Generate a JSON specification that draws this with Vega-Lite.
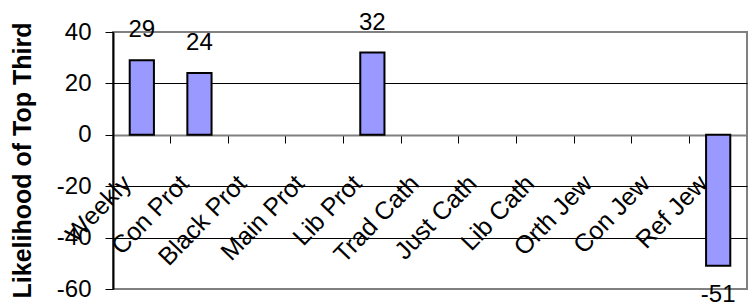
{
  "$schema": "https://vega.github.io/schema/vega-lite/v6.json",
  "width": 634,
  "height": 257,
  "autosize": "none",
  "padding": {"left": 113, "top": 32, "right": 1, "bottom": 18},
  "background": "white",
  "config": {
    "view": {"stroke": "#808080", "strokeWidth": 2},
    "font": "Liberation Sans"
  },
  "data": {
    "values": [
      {"group": "Weekly", "value": 29},
      {"group": "Con Prot", "value": 24},
      {"group": "Black Prot", "value": null},
      {"group": "Main Prot", "value": null},
      {"group": "Lib Prot", "value": 32},
      {"group": "Trad Cath", "value": null},
      {"group": "Just Cath", "value": null},
      {"group": "Lib Cath", "value": null},
      {"group": "Orth Jew", "value": null},
      {"group": "Con Jew", "value": null},
      {"group": "Ref Jew", "value": -51}
    ]
  },
  "encoding": {
    "x": {
      "field": "group",
      "type": "nominal",
      "sort": null,
      "scale": {
        "domain": ["Weekly", "Con Prot", "Black Prot", "Main Prot", "Lib Prot", "Trad Cath", "Just Cath", "Lib Cath", "Orth Jew", "Con Jew", "Ref Jew"],
        "paddingInner": 0,
        "paddingOuter": 0
      },
      "axis": {
        "title": null,
        "offset": -154,
        "bandPosition": 0,
        "labelAngle": -46,
        "labelAlign": "right",
        "labelBaseline": "middle",
        "labelOffset": -15,
        "labelPadding": 36,
        "labelFontSize": 25,
        "labelColor": "black",
        "labelFont": "Liberation Sans",
        "domainColor": "#808080",
        "domainWidth": 2,
        "tickColor": "black",
        "tickSize": 8,
        "tickWidth": 1,
        "grid": false
      }
    },
    "y": {
      "field": "value",
      "type": "quantitative",
      "scale": {"domain": [-60, 40], "nice": false},
      "axis": {
        "title": "Likelihood of Top Third",
        "titleFontSize": 25,
        "titleFontWeight": "bold",
        "titleFont": "Liberation Sans",
        "titleColor": "black",
        "titleX": -91,
        "titleY": 128,
        "titleAnchor": "middle",
        "titleBaseline": "middle",
        "values": [-60, -40, -20, 0, 20, 40],
        "labelExpr": "toString(datum.value)",
        "labelFontSize": 24,
        "labelColor": "black",
        "labelPadding": 14,
        "labelFont": "Liberation Sans",
        "domainColor": "black",
        "domainWidth": 2,
        "tickColor": "black",
        "tickSize": 8,
        "grid": true,
        "gridColor": {"condition": {"test": "datum.value === 40 || datum.value === -60 || datum.value === 0", "value": "#808080"}, "value": "black"},
        "gridWidth": 1,
        "gridOpacity": 1
      }
    }
  },
  "layer": [
    {
      "mark": {"type": "bar", "width": {"band": 0.42}, "color": "#9999FF", "stroke": "black", "strokeWidth": 2}
    },
    {
      "transform": [{"filter": "datum.value > 0"}],
      "mark": {"type": "text", "baseline": "bottom", "dy": -18, "fontSize": 24, "color": "black", "font": "Liberation Sans"},
      "encoding": {"text": {"field": "value", "type": "nominal"}}
    },
    {
      "transform": [{"filter": "datum.value < 0"}],
      "mark": {"type": "text", "baseline": "top", "dy": 17, "fontSize": 24, "color": "black", "font": "Liberation Sans"},
      "encoding": {"text": {"field": "value", "type": "nominal"}}
    }
  ]
}
